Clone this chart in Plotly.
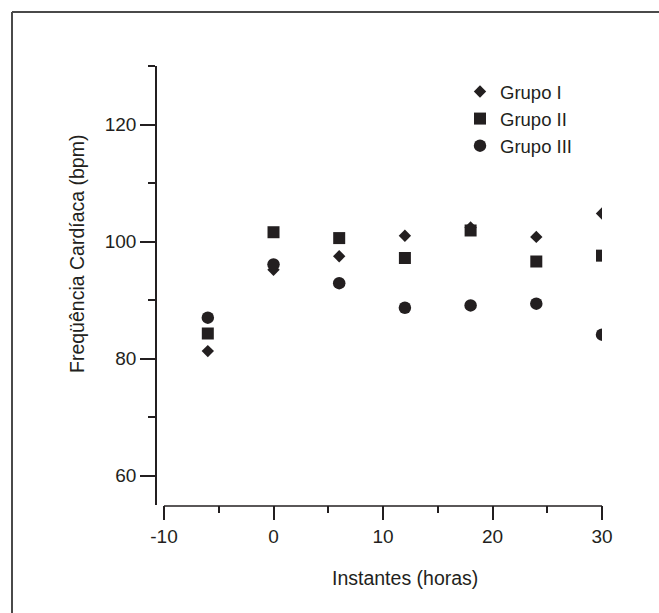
import plotly.graph_objects as go

# Data
instantes = [-6, 0, 6, 12, 18, 24, 30]
grupo_I = [81.3, 95.2, 97.5, 101.0, 102.4, 100.8, 104.8]
grupo_II = [84.3, 101.6, 100.6, 97.2, 101.9, 96.6, 97.6]
grupo_III = [87.0, 96.1, 92.9, 88.7, 89.1, 89.4, 84.1]

series_names = ["Grupo I", "Grupo II", "Grupo III"]
x_ticks = [-10, 0, 10, 20, 30]
y_ticks = [60, 80, 100, 120]

INK = "#231f20"
FONT = "Liberation Sans, Arial, sans-serif"

W, H = 659, 613
L, R, T, B = 157, 57, 66, 108
PW, PH = W - L - R, H - T - B


def px_x(p):
    return (p - L) / PW


def px_y(p):
    return (H - B - p) / PH


fig = go.Figure()
specs = [
    (series_names[0], grupo_I, "diamond", 9.5),
    (series_names[1], grupo_II, "square", 12),
    (series_names[2], grupo_III, "circle", 12.5),
]
for i, (name, vals, sym, size) in enumerate(specs):
    fig.add_trace(go.Scatter(
        x=instantes, y=vals, mode="markers", name=name,
        legendgroup=f"g{i}",
        marker=dict(symbol=sym, size=size, color=INK, line=dict(width=0)),
    ))

fig.update_layout(
    width=W, height=H,
    margin=dict(l=L, r=R, t=T, b=B, pad=0),
    paper_bgcolor="white", plot_bgcolor="white",
    font=dict(family=FONT, size=19, color=INK),
    showlegend=True,
    legend=dict(
        x=px_x(460), y=px_y(73), xanchor="left", yanchor="top",
        bgcolor="rgba(0,0,0,0)", borderwidth=0,
        font=dict(family=FONT, size=18.5, color=INK),
        traceorder="grouped", tracegroupgap=0,
        itemwidth=30,
    ),
    xaxis=dict(
        range=[-10.64, 30], showgrid=False, zeroline=False, showline=False,
        tickmode="array", tickvals=x_ticks, ticktext=[str(v) for v in x_ticks],
        ticks="outside", ticklen=14, tickwidth=1.5, tickcolor=INK,
        tickfont=dict(family=FONT, size=19, color=INK),
        minor=dict(ticks="outside", ticklen=7, tickwidth=1.5, tickcolor=INK,
                   tickvals=[-5, 5, 15, 25]),
    ),
    yaxis=dict(
        range=[55, 130], showgrid=False, zeroline=False,
        showline=True, linecolor=INK, linewidth=1.5,
        tickmode="array", tickvals=y_ticks, ticktext=[str(v) for v in y_ticks],
        ticks="outside", ticklen=15, tickwidth=1.5, tickcolor=INK,
        tickfont=dict(family=FONT, size=19, color=INK),
        minor=dict(ticks="outside", ticklen=7, tickwidth=1.5, tickcolor=INK,
                   tickvals=[70, 90, 110, 130]),
    ),
    shapes=[
        # x axis line from -10 to 30
        dict(type="line", xref="x", yref="paper", x0=-10, x1=30,
             y0=px_y(506), y1=px_y(506), line=dict(color=INK, width=1.5)),
        # outer frame (top and left)
        dict(type="line", xref="paper", yref="paper",
             x0=px_x(12), x1=px_x(W + 2), y0=px_y(12), y1=px_y(12),
             line=dict(color="#4a4a4a", width=2)),
        dict(type="line", xref="paper", yref="paper",
             x0=px_x(12), x1=px_x(12), y0=px_y(12), y1=px_y(H + 2),
             line=dict(color="#4a4a4a", width=2)),
    ],
    annotations=[
        dict(text="Freqüência Cardíaca (bpm)", textangle=-90,
             xref="paper", yref="paper", x=px_x(77), y=px_y(254),
             xanchor="center", yanchor="middle", showarrow=False,
             font=dict(family=FONT, size=19.5, color=INK)),
        dict(text="Instantes (horas)",
             xref="paper", yref="paper", x=px_x(405), y=px_y(578),
             xanchor="center", yanchor="middle", showarrow=False,
             font=dict(family=FONT, size=19.5, color=INK)),
    ],
)

fig.write_html("out.html")
